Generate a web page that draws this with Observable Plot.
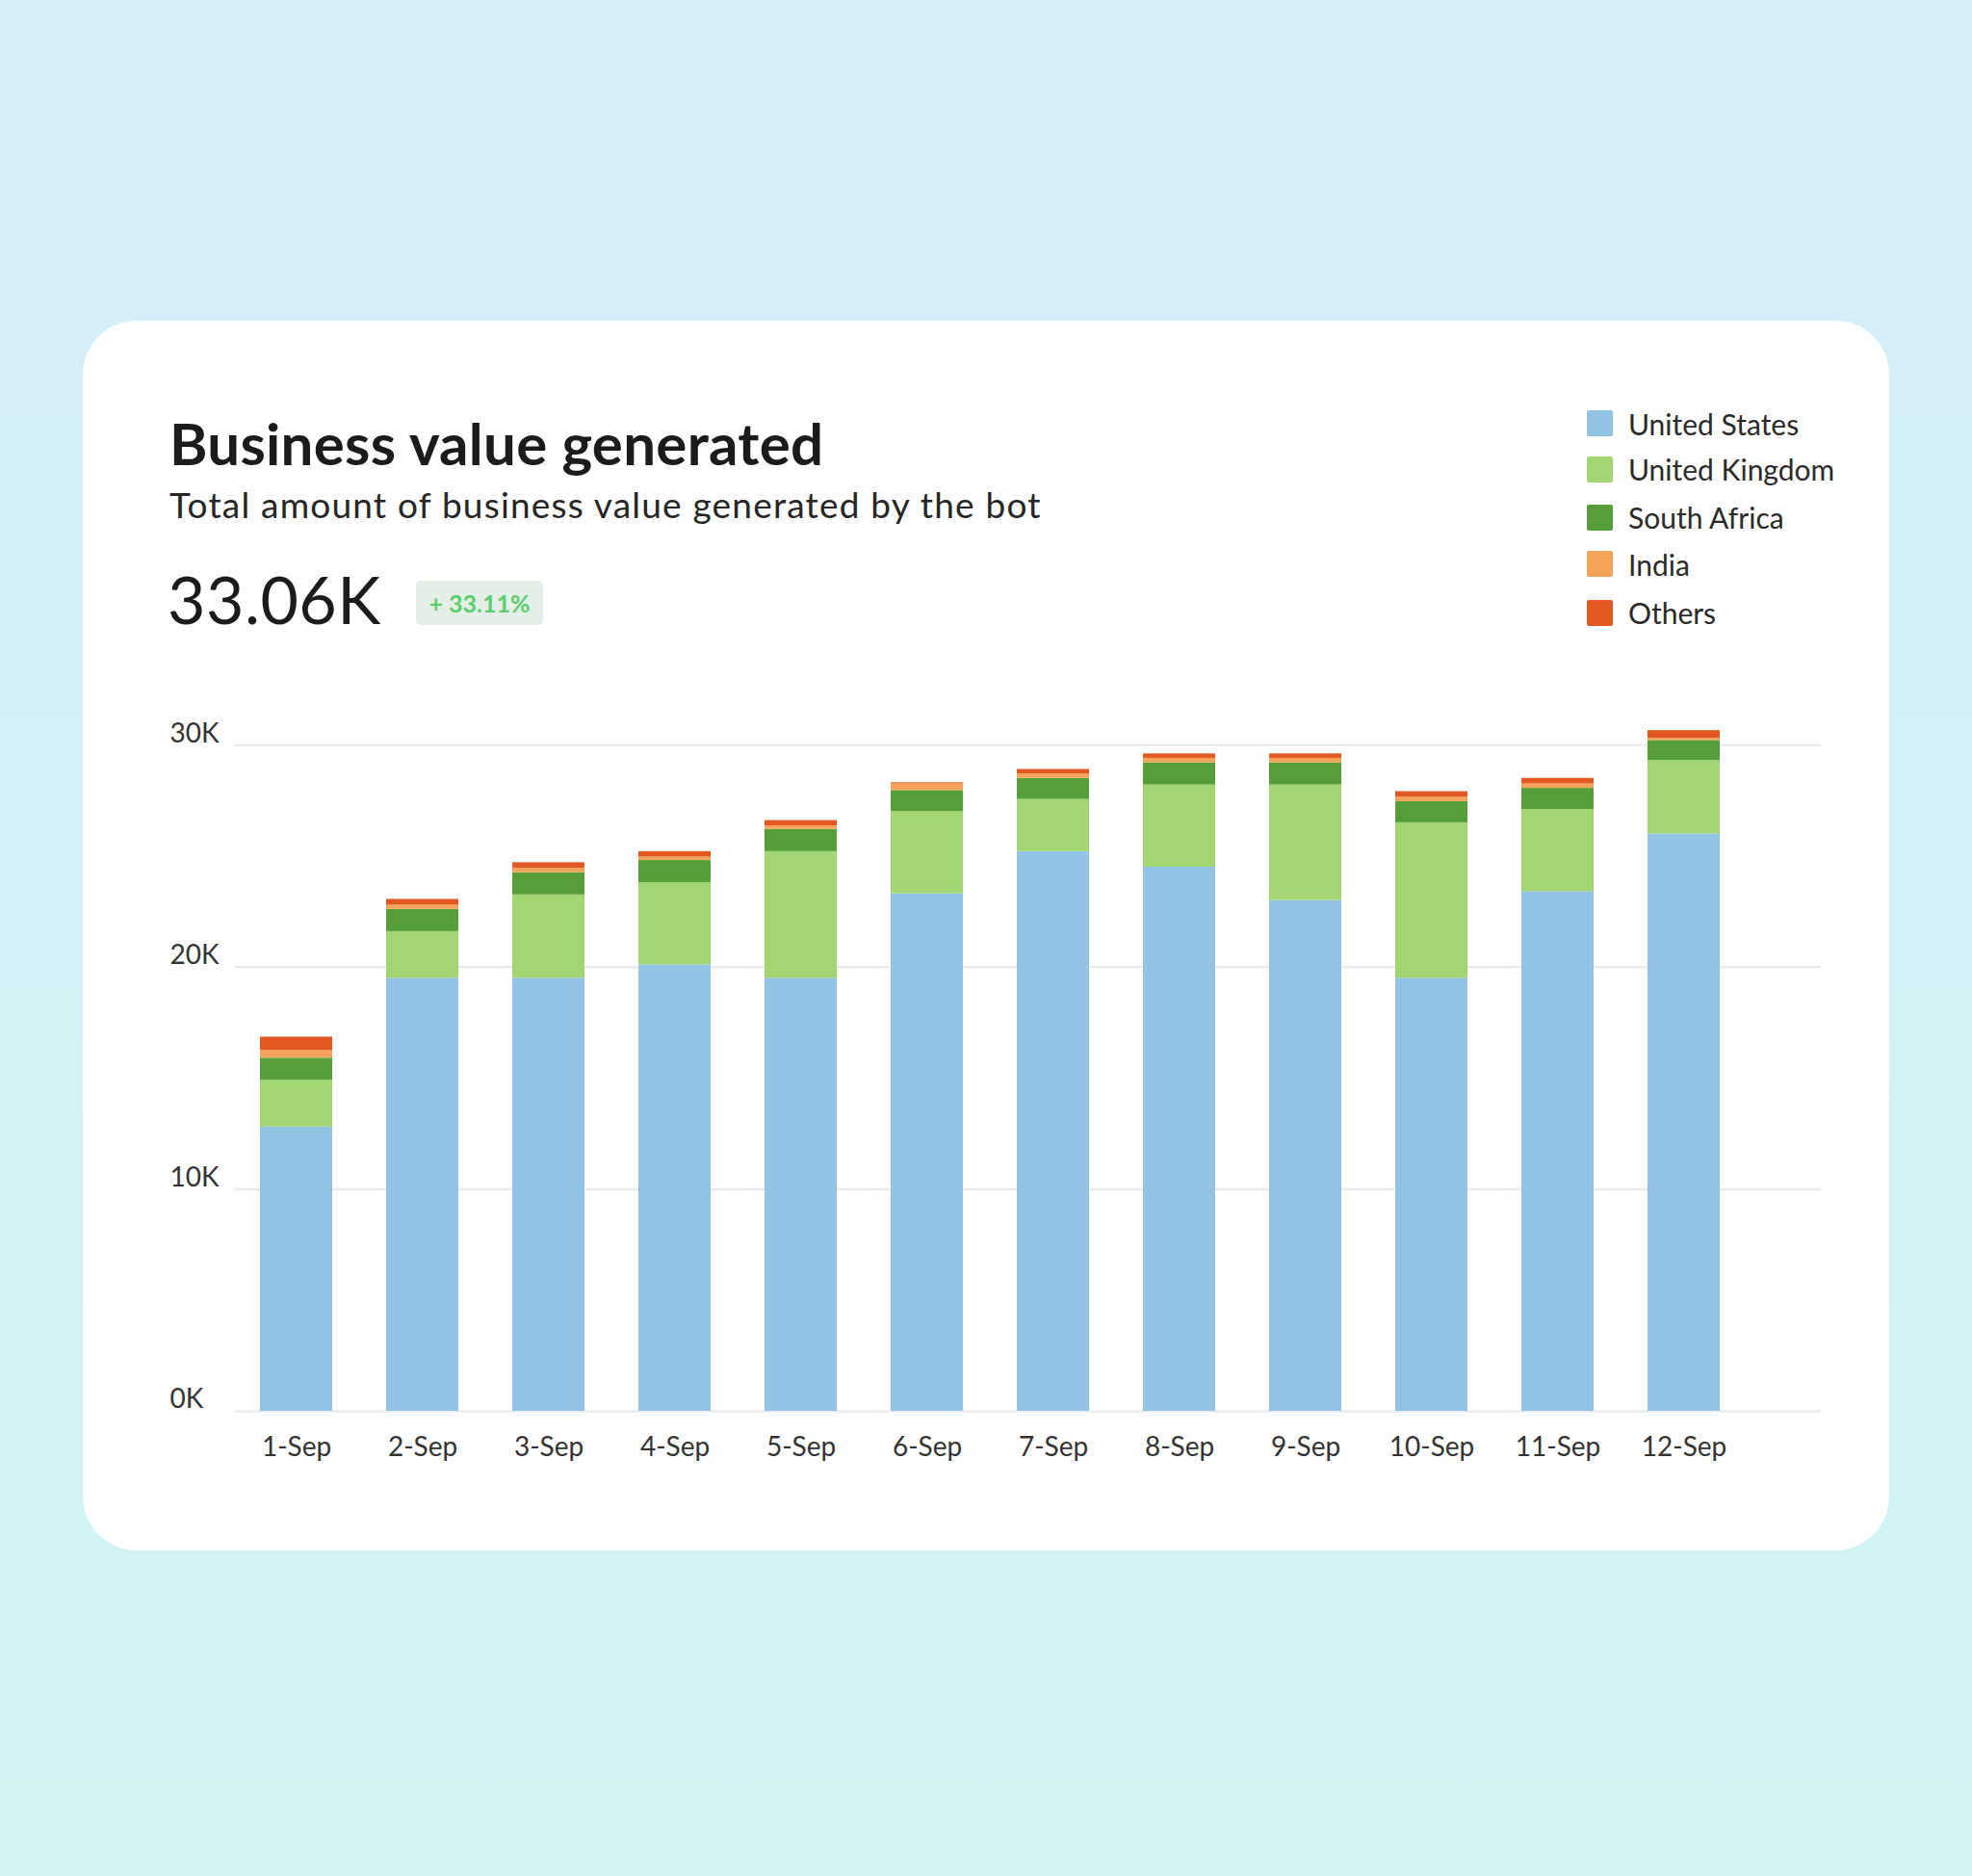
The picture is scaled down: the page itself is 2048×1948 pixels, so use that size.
<!DOCTYPE html>
<html>
<head>
<meta charset="utf-8">
<script src="https://cdn.jsdelivr.net/npm/d3@7"></script>
<script src="https://cdn.jsdelivr.net/npm/@observablehq/plot@0.6"></script>
<style>
  html, body { margin: 0; padding: 0; }
  body {
    width: 2048px; height: 1948px; position: relative; overflow: hidden;
    background: linear-gradient(180deg, #d5eef9 0%, #d3f3f7 60%, #d3f5f4 100%);
    font-family: Lato, "Open Sans", sans-serif;
  }
  .card {
    position: absolute; left: 86px; top: 333px; width: 1876px; height: 1277px;
    background: #ffffff; border-radius: 56px;
  }
  .abs { position: absolute; line-height: 1; white-space: nowrap; }
  #title { left: 176px; top: 430px; font-size: 60px; font-weight: 700; color: #1b1b1b; letter-spacing: 0.3px; }
  #subtitle { left: 176px; top: 505px; font-size: 37px; color: #262626; letter-spacing: 1.2px; }
  #kpi { left: 174px; top: 588px; font-size: 68px; color: #1b1b1b; letter-spacing: 0.5px; }
  #badge {
    left: 432px; top: 603px; width: 132px; height: 46px; background: #e4efe7; border-radius: 5px;
    color: #5ccd6d; font-size: 25px; font-weight: 700; display: flex; align-items: center; justify-content: center;
  }
  .legend-item { position: absolute; left: 1648px; height: 28px; display: flex; align-items: center; }
  .legend-item .sw { width: 27px; height: 27px; border-radius: 2px; margin-right: 16px; }
  .legend-item .lb { font-size: 30px; color: #2a2a2a; line-height: 1; }
  #chart { position: absolute; left: 0; top: 700px; }
</style>
</head>
<body>
<div class="card"></div>
<div class="abs" id="title">Business value generated</div>
<div class="abs" id="subtitle">Total amount of business value generated by the bot</div>
<div class="abs" id="kpi">33.06K</div>
<div class="abs" id="badge">+ 33.11%</div>
<div id="legend"></div>
<div id="chart"></div>
<script>
// ---- data (values in thousands) ----
const dates = ["1-Sep","2-Sep","3-Sep","4-Sep","5-Sep","6-Sep","7-Sep","8-Sep","9-Sep","10-Sep","11-Sep","12-Sep"];
const countries = ["United States","United Kingdom","South Africa","India","Others"];
const colors = ["#90c3e4","#a2d672","#569e38","#f6a35a","#e35820"];
const unitedStates   = [12.8, 19.5, 19.5, 20.1, 19.5, 23.3, 25.2, 24.5, 23.0, 19.5, 23.4, 26.0];
const unitedKingdom  = [2.1, 2.1, 3.75, 3.7, 5.7, 3.7, 2.35, 3.7, 5.2, 7.0, 3.7, 3.3];
const southAfrica    = [1.0, 1.0, 1.0, 1.0, 1.0, 0.95, 0.95, 1.0, 1.0, 0.95, 0.95, 0.9];
const india          = [0.35, 0.2, 0.2, 0.15, 0.15, 0.3, 0.2, 0.2, 0.2, 0.2, 0.2, 0.1];
const others         = [0.6, 0.25, 0.25, 0.25, 0.25, 0.05, 0.2, 0.2, 0.2, 0.25, 0.25, 0.35];
const yTicks = [0, 10000, 20000, 30000];

const seriesValues = [unitedStates, unitedKingdom, southAfrica, india, others];
const data = [];
dates.forEach((d, i) => {
  countries.forEach((c, j) => {
    data.push({date: d, country: c, value: seriesValues[j][i] * 1000});
  });
});

// legend
const legendY = [439.5, 487, 537, 585.5, 636];
const legend = document.getElementById("legend");
countries.forEach((c, i) => {
  const item = document.createElement("div");
  item.className = "legend-item";
  item.style.top = (legendY[i] - 14) + "px";
  item.innerHTML = `<div class="sw" style="background:${colors[i]}"></div><div class="lb">${c}</div>`;
  legend.appendChild(item);
});

const chart = Plot.plot({
  width: 2048,
  height: 860,
  marginLeft: 244,
  marginRight: 157,
  marginTop: 27,
  marginBottom: 95,
  x: {domain: dates, paddingInner: 0.43, paddingOuter: 0.497, align: 0.2, label: null},
  y: {domain: [0, 32000], label: null},
  color: {domain: countries, range: colors},
  style: {fontFamily: "Lato, sans-serif", fontSize: "28px", color: "#333333", background: "transparent", overflow: "visible"},
  marks: [
    Plot.gridY({ticks: yTicks, stroke: "#e9edf0", strokeOpacity: 1, strokeWidth: 2.5}),
    Plot.barY(data, {x: "date", y: "value", fill: "country"}),
    Plot.axisY({ticks: yTicks, tickSize: 0, tickPadding: 68, textAnchor: "start", dy: -12,
                tickFormat: d => (d / 1000) + "K", label: null, fill: "#333333"}),
    Plot.axisX({tickSize: 0, tickPadding: 27, label: null, fill: "#333333"})
  ]
});
document.getElementById("chart").appendChild(chart);
</script>
</body>
</html>
